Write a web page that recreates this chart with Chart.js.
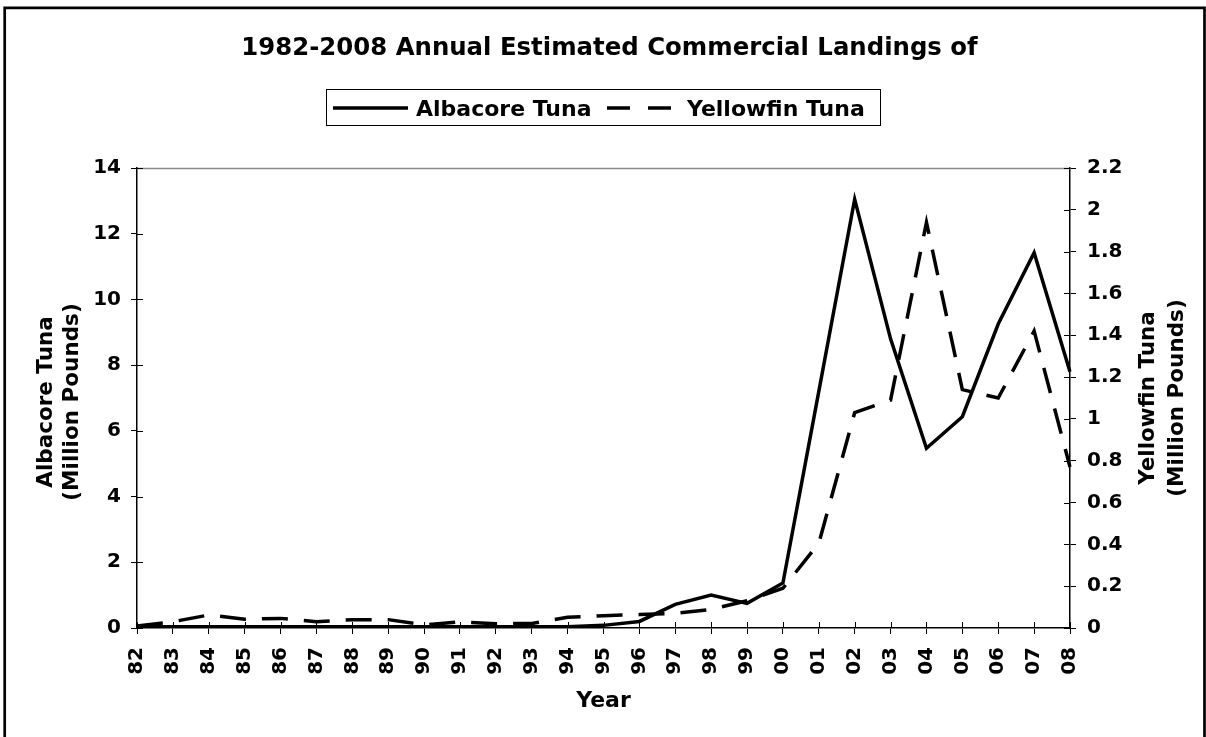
<!DOCTYPE html>
<html>
<head>
<meta charset="utf-8">
<script src="https://cdn.jsdelivr.net/npm/chart.js@4.4.1/dist/chart.umd.min.js"></script>
<style>
html,body{margin:0;padding:0;background:#fff;overflow:hidden}
canvas{display:block}
</style>
</head>
<body>
<canvas id="c" width="1206" height="737"></canvas>
<script>
// ---- data ----
const TITLE = '1982-2008 Annual Estimated Commercial Landings of';
const years = ['82','83','84','85','86','87','88','89','90','91','92','93','94','95','96','97','98','99','00','01','02','03','04','05','06','07','08'];
const albacore = [0.04,0.04,0.04,0.04,0.04,0.04,0.04,0.04,0.04,0.04,0.04,0.04,0.04,0.08,0.2,0.72,1.0,0.75,1.37,7.2,13.05,8.8,5.47,6.43,9.25,11.42,7.8];
const yellowfin = [0.01,0.03,0.062,0.042,0.046,0.03,0.04,0.04,0.015,0.03,0.02,0.022,0.051,0.059,0.064,0.07,0.089,0.13,0.19,0.405,1.03,1.09,1.94,1.14,1.1,1.42,0.77];
const leftTicks = [0,2,4,6,8,10,12,14];
const rightTicks = [0,0.2,0.4,0.6,0.8,1,1.2,1.4,1.6,1.8,2,2.2];
const leftTitle = ['Albacore Tuna','(Million Pounds)'];
const rightTitle = ['Yellowfin Tuna','(Million Pounds)'];
const xTitle = 'Year';

const FONT = "'DejaVu Sans', Verdana, sans-serif";
Chart.defaults.font.family = FONT;
Chart.defaults.font.weight = 'bold';
Chart.defaults.color = '#000';

const decor = {
  id: 'decor',
  beforeDraw(chart) {
    const ctx = chart.ctx;
    ctx.save();
    ctx.fillStyle = '#fff';
    ctx.fillRect(0, 0, chart.width, chart.height);
    ctx.restore();
  },
  afterDraw(chart) {
    const ctx = chart.ctx;
    const sx = chart.scales.x, sy = chart.scales.y, sy2 = chart.scales.y2;
    ctx.save();
    // top plot border (gray)
    const ty = Math.round(sy.getPixelForValue(sy.max)) + 0.5;
    ctx.strokeStyle = '#8a8a8a';
    ctx.lineWidth = 1.5;
    ctx.beginPath();
    ctx.moveTo(sy.right, ty); ctx.lineTo(sy2.left, ty);
    ctx.stroke();
    // inner halves of cross ticks
    ctx.strokeStyle = '#000';
    ctx.lineWidth = 1;
    ctx.beginPath();
    years.forEach((_, i) => {
      const px = Math.round(sx.getPixelForValue(i)) + 0.5;
      ctx.moveTo(px, sx.top); ctx.lineTo(px, sx.top - 6);
    });
    leftTicks.forEach(v => {
      const py = Math.round(sy.getPixelForValue(v)) + 0.5;
      ctx.moveTo(sy.right, py); ctx.lineTo(sy.right + 6, py);
    });
    rightTicks.forEach(v => {
      const py = Math.round(sy2.getPixelForValue(v)) + 0.5;
      ctx.moveTo(sy2.left, py); ctx.lineTo(sy2.left - 6, py);
    });
    ctx.stroke();

    // title
    ctx.fillStyle = '#000';
    ctx.font = 'bold 24.4px ' + FONT;
    ctx.textAlign = 'center';
    ctx.textBaseline = 'alphabetic';
    ctx.fillText(TITLE, 609.5, 55);

    // legend
    ctx.strokeStyle = '#000';
    ctx.lineWidth = 1;
    ctx.strokeRect(326.5, 89.5, 554, 36);
    const items = [
      {x0: 333, x1: 408, tx: 416},
      {x0: 607, x1: 673, tx: 687}
    ];
    ctx.font = 'bold 22px ' + FONT;
    ctx.textAlign = 'left';
    chart.data.datasets.forEach((ds, i) => {
      const it = items[i];
      ctx.save();
      ctx.lineWidth = 3.5;
      ctx.lineCap = 'butt';
      ctx.setLineDash(i === 1 ? [23, 18] : []);
      ctx.beginPath();
      ctx.moveTo(it.x0, 108); ctx.lineTo(it.x1, 108);
      ctx.stroke();
      ctx.restore();
      ctx.fillText(ds.label, it.tx, 116);
    });

    // axis titles
    ctx.font = 'bold 21.5px ' + FONT;
    ctx.textAlign = 'center';
    ctx.textBaseline = 'middle';
    ctx.save();
    ctx.translate(59, 402);
    ctx.rotate(-Math.PI / 2);
    ctx.fillText(leftTitle[0], 0, -13);
    ctx.fillText(leftTitle[1], 0, 13);
    ctx.restore();
    ctx.save();
    ctx.translate(1162.5, 398);
    ctx.rotate(-Math.PI / 2);
    ctx.fillText(rightTitle[0], 0, -14.5);
    ctx.fillText(rightTitle[1], 0, 14.5);
    ctx.restore();
    ctx.font = 'bold 22px ' + FONT;
    ctx.textBaseline = 'alphabetic';
    ctx.fillText(xTitle, (sx.left + sx.right) / 2, 707);

    // outer frame
    ctx.strokeStyle = '#000';
    ctx.lineWidth = 2.7;
    ctx.beginPath();
    ctx.moveTo(4.7, 737); ctx.lineTo(4.7, 7.8); ctx.lineTo(1204.5, 7.8); ctx.lineTo(1204.5, 737);
    ctx.stroke();
    ctx.restore();
  }
};

new Chart(document.getElementById('c'), {
  type: 'line',
  data: {
    labels: years,
    datasets: [
      {
        label: 'Albacore Tuna',
        data: albacore,
        yAxisID: 'y',
        borderColor: '#000',
        borderWidth: 3.5,
        borderJoinStyle: 'miter',
        pointRadius: 0,
        tension: 0,
        fill: false
      },
      {
        label: 'Yellowfin Tuna',
        data: yellowfin,
        yAxisID: 'y2',
        borderColor: '#000',
        borderWidth: 3.5,
        borderDash: [26, 16],
        borderJoinStyle: 'miter',
        pointRadius: 0,
        tension: 0,
        fill: false
      }
    ]
  },
  options: {
    responsive: false,
    animation: false,
    devicePixelRatio: 1,
    layout: { padding: { top: 168, left: 0, right: 0, bottom: 0 } },
    plugins: {
      legend: { display: false },
      title: { display: false },
      tooltip: { enabled: false }
    },
    scales: {
      x: {
        type: 'category',
        offset: false,
        grid: { display: true, drawOnChartArea: false, drawTicks: true, tickLength: 6, tickColor: '#000', tickWidth: 1 },
        border: { display: true, color: '#000', width: 1.5 },
        ticks: { autoSkip: false, minRotation: 90, maxRotation: 90, padding: 13, color: '#000', font: { size: 20, weight: 'bold' } },
        afterFit(s) { s.height = 109; }
      },
      y: {
        position: 'left',
        min: 0, max: 14,
        afterBuildTicks(s) { s.ticks = leftTicks.map(v => ({ value: v })); },
        grid: { display: true, drawOnChartArea: false, drawTicks: true, tickLength: 6, tickColor: '#000', tickWidth: 1 },
        border: { display: true, color: '#000', width: 1.5 },
        ticks: { padding: 10, color: '#000', font: { size: 20, weight: 'bold' }, callback: v => String(v) },
        afterFit(s) { s.width = 137; }
      },
      y2: {
        position: 'right',
        min: 0, max: 2.2,
        afterBuildTicks(s) { s.ticks = rightTicks.map(v => ({ value: v })); },
        grid: { display: true, drawOnChartArea: false, drawTicks: true, tickLength: 6, tickColor: '#000', tickWidth: 1 },
        border: { display: true, color: '#000', width: 1.5 },
        ticks: { padding: 11, color: '#000', font: { size: 20, weight: 'bold' }, callback: v => String(v) },
        afterFit(s) { s.width = 136; }
      }
    }
  },
  plugins: [decor]
});
</script>
</body>
</html>
